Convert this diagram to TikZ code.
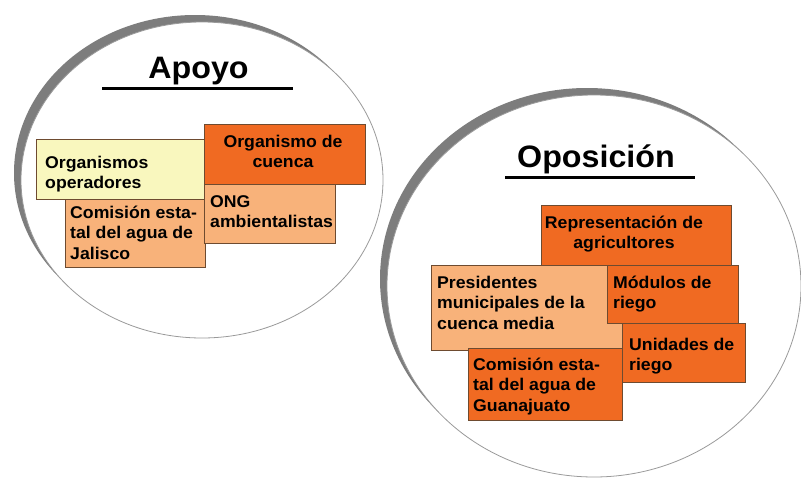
\documentclass[tikz,border=0pt]{standalone}
\usepackage{fontspec}
\setmainfont{Liberation Sans}[FakeStretch=1.04]
\definecolor{dko}{HTML}{F06A22}
\definecolor{lto}{HTML}{F8B27A}
\definecolor{pyl}{HTML}{F9F7BE}
\definecolor{bdr}{HTML}{6E4B30}
\definecolor{band}{HTML}{7D7D7D}
\definecolor{rim}{HTML}{9A9A9A}
\newcommand\firststrut{\rule{0pt}{16pt}}
\begin{document}
\begin{tikzpicture}[x=1pt,y=-1pt,
 box/.style={draw=bdr,line width=0.8pt,inner sep=0pt,outer sep=0pt,anchor=north west},
 txt/.style={inner sep=0pt,font=\fontsize{17}{20.5}\selectfont\bfseries,align=left,anchor=north west},
 ctxt/.style={txt,align=center,anchor=north},
 ttl/.style={inner sep=0pt,font=\fontsize{31}{36}\selectfont\bfseries,anchor=base},
 uline/.style={line width=3pt}]
\useasboundingbox (0,0) rectangle (801,483);
\fill[white] (0,0) rectangle (801,483);
% circles
\fill[band] (195,173) ellipse [x radius=181, y radius=158];
\filldraw[fill=white,draw=rim,line width=0.8pt] (202,180) ellipse [x radius=181, y radius=158];
\fill[band] (587,279) ellipse [x radius=207, y radius=191];
\filldraw[fill=white,draw=rim,line width=0.8pt] (594,286) ellipse [x radius=207, y radius=191];
% titles
\node[ttl] (tapoyo) at (198.5,78) {Apoyo};
\coordinate (ua1) at (102,88); \coordinate (ua2) at (293,88);
\draw[uline] (ua1) -- (ua2);
\node[ttl] (toposicion) at (596,167) {Oposición};
\coordinate (uo1) at (505,177); \coordinate (uo2) at (695,177);
\draw[uline] (uo1) -- (uo2);
% left boxes
\node[box,fill=pyl,minimum width=174,minimum height=60] (ops) at (36,139) {};
\node[box,fill=lto,minimum width=140,minimum height=68] (comj) at (65,199) {};
\node[box,fill=dko,minimum width=161,minimum height=60] (cuenca) at (204,124) {};
\node[box,fill=lto,minimum width=131,minimum height=59] (ong) at (204,184) {};
\node[txt] (opst) at (45,152) {\firststrut Organismos\\operadores};
\node[txt] (comjt) at (70,202) {\firststrut Comisión esta-\\tal del agua de\\Jalisco};
\node[ctxt] (cuencat) at (283,131) {\firststrut Organismo de\\cuenca};
\node[txt] (ongt) at (210,191) {\firststrut ONG\\ambientalistas};
% right boxes
\node[box,fill=dko,minimum width=190,minimum height=60] (rep) at (541,205) {};
\node[box,fill=lto,minimum width=194,minimum height=85] (pres) at (431,265) {};
\node[box,fill=dko,minimum width=131,minimum height=58] (mod) at (607,265) {};
\node[box,fill=dko,minimum width=123,minimum height=59] (uni) at (622,323) {};
\node[box,fill=dko,minimum width=154,minimum height=72] (comg) at (468,348) {};
\node[ctxt] (rept) at (624,212) {\firststrut Representación de\\agricultores};
\node[txt] (prest) at (437,272) {\firststrut Presidentes\\municipales de la\\cuenca media};
\node[txt] (modt) at (613,272) {\firststrut Módulos de\\riego};
\node[txt] (unit) at (629,334) {\firststrut Unidades de\\riego};
\node[txt] (comgt) at (473,354) {\firststrut Comisión esta-\\tal del agua de\\Guanajuato};
\end{tikzpicture}
\end{document}
